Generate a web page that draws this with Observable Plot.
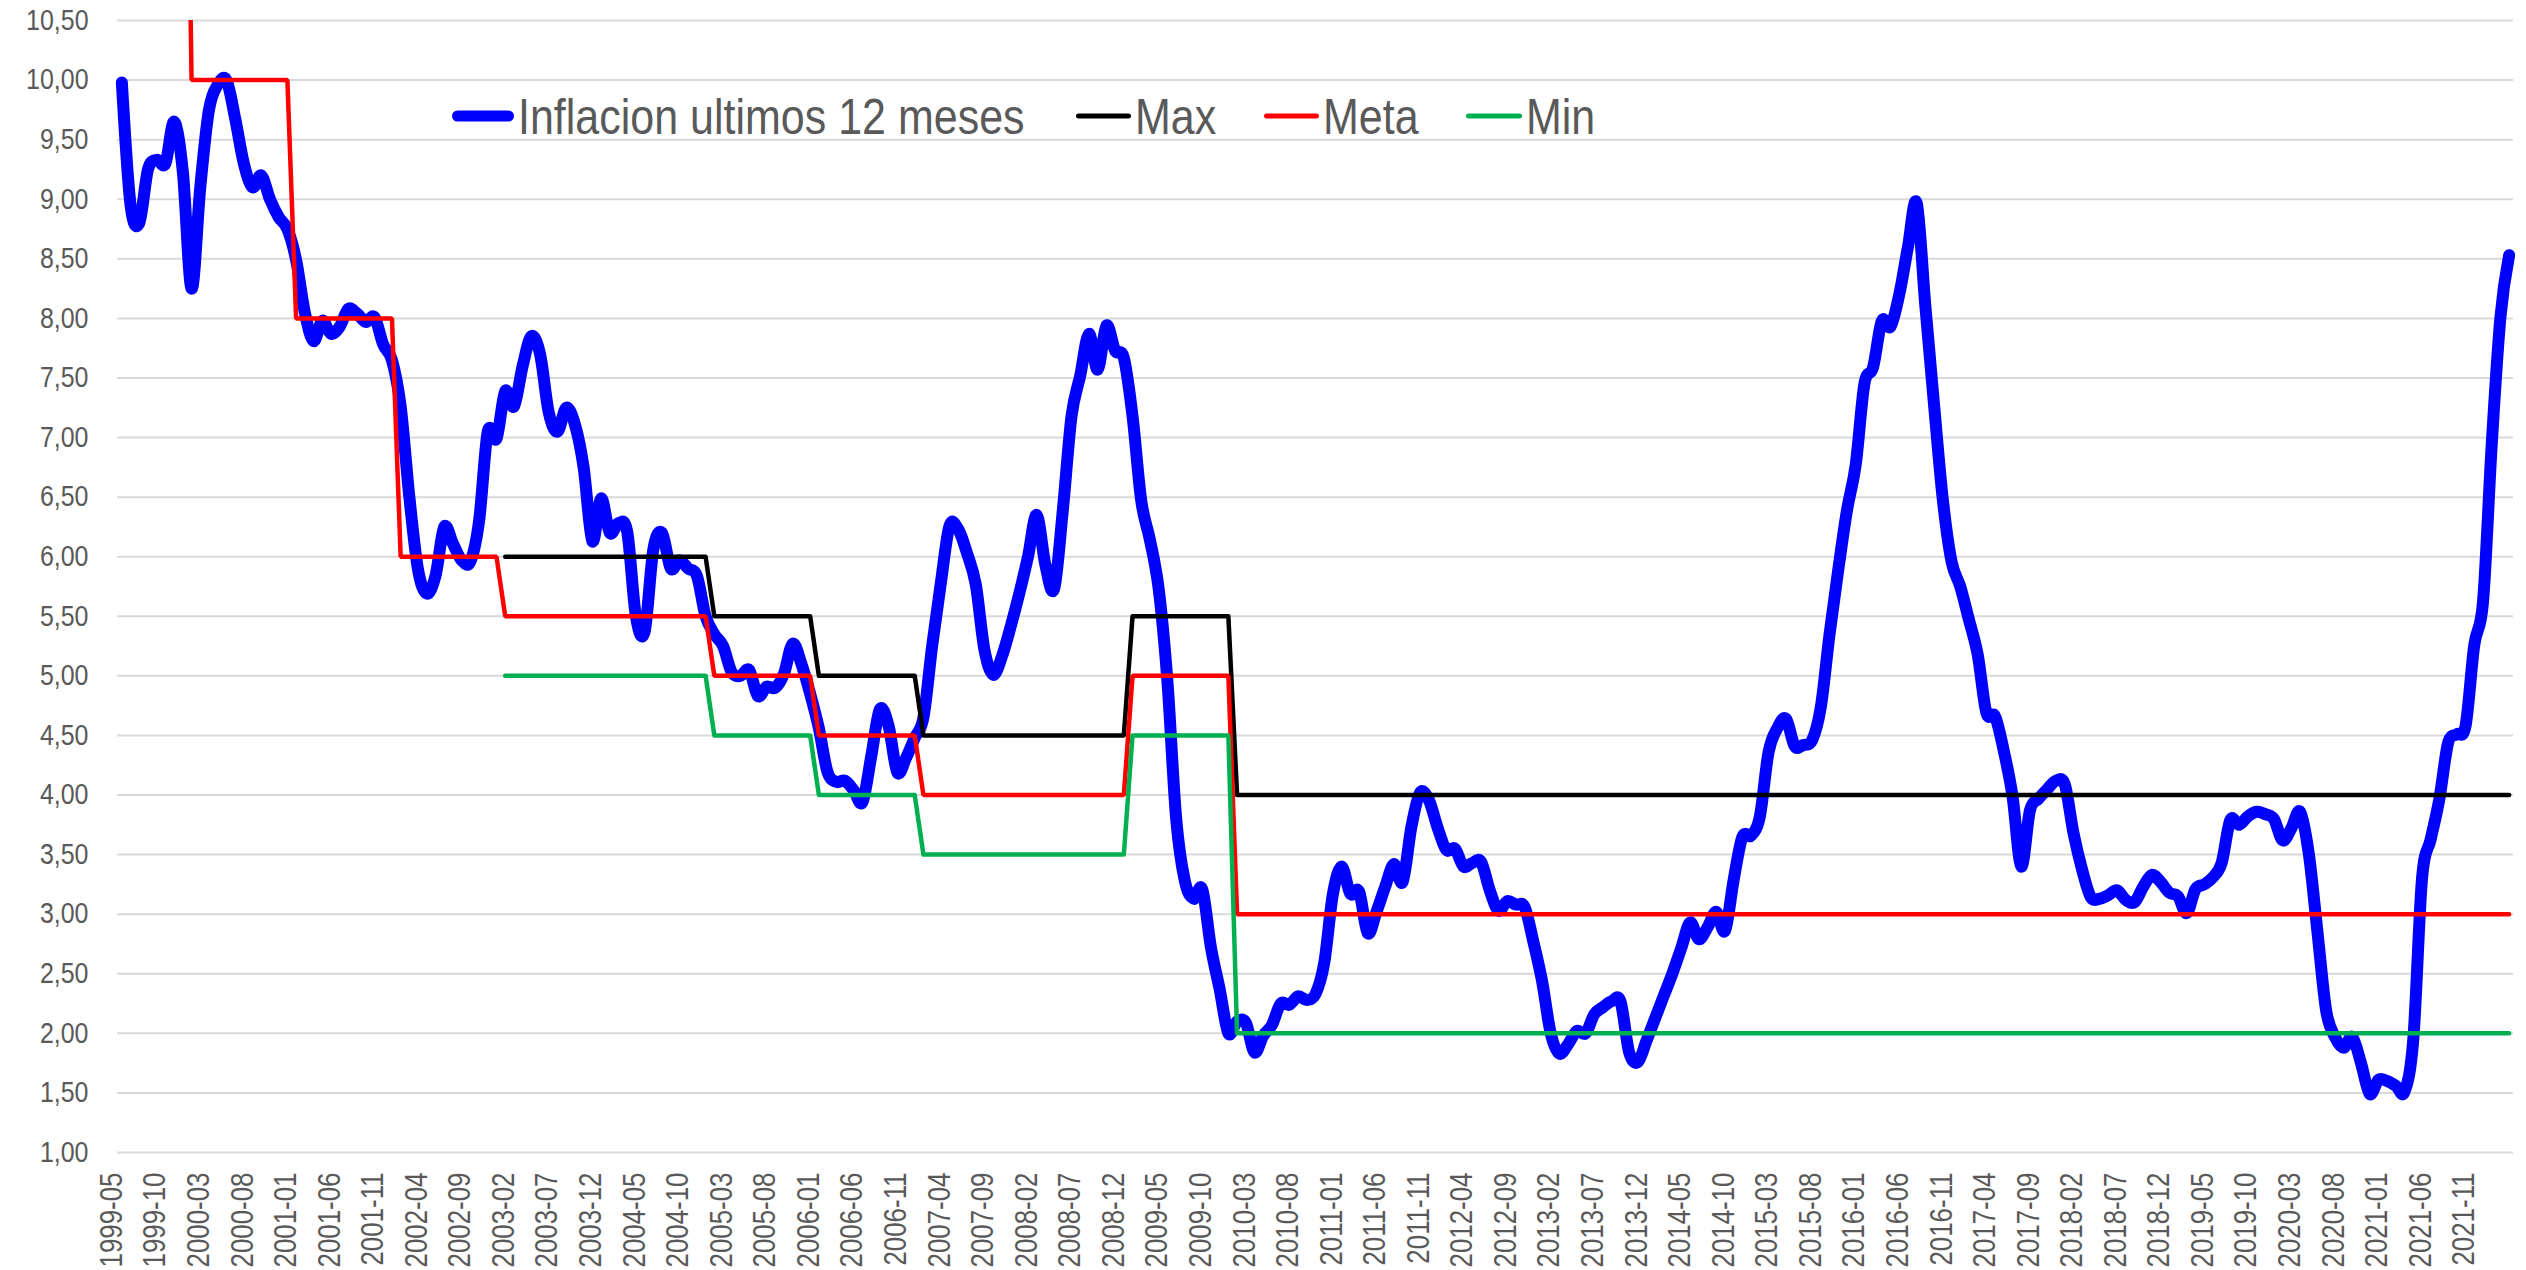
<!DOCTYPE html>
<html>
<head>
<meta charset="utf-8">
<script src="https://cdn.jsdelivr.net/npm/d3@7"></script>
<script src="https://cdn.jsdelivr.net/npm/@observablehq/plot@0.6"></script>
<style>
html, body { margin: 0; padding: 0; background: #ffffff; overflow: hidden; }
#wrap { position: relative; width: 2526px; height: 1270px; background: #ffffff; }
#wrap svg { display: block; }
</style>
</head>
<body>
<div id="wrap"></div>
<script>
// ---- Data ----
const startYear = 1999;
const startMonth = 5;

// Inflación últimos 12 meses (%), mensual 1999-05 ... 2022-03
const inflacion = [
  9.98, 8.95, 8.80, 9.25, 9.33, 9.30, 9.65, 9.23,                     // 1999-05..12
  8.25, 9.10, 9.75, 9.96, 10.00, 9.68, 9.30, 9.10, 9.20, 9.00, 8.85, 8.75, // 2000
  8.49, 8.05, 7.81, 7.98, 7.87, 7.93, 8.08, 8.04, 7.97, 8.01, 7.78, 7.65,  // 2001
  7.26, 6.50, 5.89, 5.69, 5.84, 6.25, 6.11, 5.97, 5.96, 6.30, 7.05, 6.99,  // 2002
  7.39, 7.26, 7.60, 7.85, 7.70, 7.21, 7.05, 7.25, 7.11, 6.75, 6.13, 6.49,  // 2003
  6.20, 6.28, 6.21, 5.50, 5.37, 6.06, 6.20, 5.90, 5.97, 5.90, 5.84, 5.50,  // 2004
  5.35, 5.25, 5.03, 5.00, 5.05, 4.83, 4.91, 4.90, 5.02, 5.27, 5.10, 4.85,  // 2005
  4.56, 4.19, 4.11, 4.12, 4.04, 3.94, 4.32, 4.72, 4.58, 4.19, 4.31, 4.48,  // 2006
  4.65, 5.25, 5.78, 6.26, 6.23, 6.03, 5.77, 5.22, 5.01, 5.16, 5.41, 5.69,  // 2007
  6.00, 6.35, 5.93, 5.73, 6.39, 7.18, 7.52, 7.87, 7.57, 7.94, 7.73, 7.67,  // 2008
  7.18, 6.47, 6.14, 5.73, 4.96, 3.81, 3.28, 3.13, 3.21, 2.72, 2.37, 2.00,  // 2009
  2.10, 2.09, 1.84, 1.98, 2.07, 2.25, 2.24, 2.31, 2.28, 2.33, 2.59, 3.17,  // 2010
  3.40, 3.17, 3.19, 2.84, 3.02, 3.23, 3.42, 3.27, 3.73, 4.02, 3.96, 3.73,  // 2011
  3.54, 3.55, 3.40, 3.43, 3.44, 3.20, 3.03, 3.11, 3.08, 3.06, 2.77, 2.44,  // 2012
  2.00, 1.83, 1.91, 2.02, 2.00, 2.16, 2.22, 2.27, 2.27, 1.84, 1.76, 1.94,  // 2013
  2.13, 2.32, 2.51, 2.72, 2.93, 2.79, 2.89, 3.02, 2.86, 3.29, 3.65, 3.66,  // 2014
  3.82, 4.36, 4.56, 4.64, 4.41, 4.42, 4.46, 4.74, 5.35, 5.89, 6.39, 6.77,  // 2015
  7.45, 7.59, 7.98, 7.93, 8.20, 8.60, 8.97, 8.10, 7.27, 6.48, 5.96, 5.75,  // 2016
  5.47, 5.18, 4.69, 4.66, 4.37, 3.99, 3.40, 3.87, 3.97, 4.05, 4.12, 4.09,  // 2017
  3.68, 3.37, 3.14, 3.13, 3.16, 3.20, 3.12, 3.10, 3.23, 3.33, 3.27, 3.18,  // 2018
  3.15, 3.01, 3.21, 3.25, 3.31, 3.43, 3.79, 3.75, 3.82, 3.86, 3.84, 3.80,  // 2019
  3.62, 3.72, 3.86, 3.51, 2.85, 2.19, 1.97, 1.88, 1.97, 1.75, 1.49, 1.61,  // 2020
  1.60, 1.56, 1.51, 1.95, 3.30, 3.63, 3.97, 4.44, 4.51, 4.58, 5.26, 5.62,  // 2021
  6.94, 8.01, 8.53                                                         // 2022-01..03
];

// Targets by year
const targetYears = [1999, 2000, 2001, 2002, 2003, 2004, 2005, 2006, 2007, 2008, 2009, 2010, 2011, 2012, 2013, 2014, 2015, 2016, 2017, 2018, 2019, 2020, 2021, 2022];
const meta =     [15, 10, 8, 6, 5.5, 5.5, 5.0, 4.5, 4.0, 4.0, 5.0, 3, 3, 3, 3, 3, 3, 3, 3, 3, 3, 3, 3, 3];
const maxRango = [null, null, null, null, 6, 6, 5.5, 5, 4.5, 4.5, 5.5, 4, 4, 4, 4, 4, 4, 4, 4, 4, 4, 4, 4, 4];
const minRango = [null, null, null, null, 5, 5, 4.5, 4, 3.5, 3.5, 4.5, 2, 2, 2, 2, 2, 2, 2, 2, 2, 2, 2, 2, 2];

const yTicks = [1, 1.5, 2, 2.5, 3, 3.5, 4, 4.5, 5, 5.5, 6, 6.5, 7, 7.5, 8, 8.5, 9, 9.5, 10, 10.5];
const xTickStep = 5;

const seriesNames = ["Inflacion ultimos 12 meses", "Max", "Meta", "Min"];
const seriesColors = ["#0000ff", "#000000", "#ff0000", "#00b050"];

// ---- Derived tables ----
const months = inflacion.map((_, i) => {
  const k = (startMonth - 1) + i;
  const yr = startYear + Math.floor(k / 12);
  const mo = (k % 12) + 1;
  return `${yr}-${String(mo).padStart(2, "0")}`;
});
const rows = inflacion.map((v, i) => {
  const yr = +months[i].slice(0, 4);
  const t = targetYears.indexOf(yr);
  return { i, month: months[i], v, meta: meta[t], max: maxRango[t], min: minRango[t] };
});
const tickIdx = d3.range(0, inflacion.length, xTickStep);
const fmt = d => d.toFixed(2).replace(".", ",");

const FONT = "'Liberation Sans', Arial, Helvetica, sans-serif";
const GRAY = "#595959";

const chart = Plot.plot({
  width: 2526,
  height: 1270,
  marginLeft: 117,
  marginRight: 13,
  marginTop: 20,
  marginBottom: 118,
  x: { domain: [-0.5, inflacion.length - 0.5], axis: null },
  y: { domain: [1, 10.5], axis: null },
  style: { fontFamily: FONT, background: "#ffffff", overflow: "visible" },
  marks: [
    Plot.gridY(yTicks, { stroke: "#d9d9d9", strokeOpacity: 1, strokeWidth: 2 }),
    Plot.text(yTicks, {
      y: d => d, text: fmt, frameAnchor: "left", textAnchor: "end",
      dx: -29, fontSize: 29, fill: GRAY
    }),
    Plot.text(tickIdx, {
      x: d => d, text: d => months[d], frameAnchor: "bottom", rotate: -90,
      textAnchor: "end", dy: 20, fontSize: 31, fill: GRAY
    }),
    Plot.line(rows, { x: "i", y: "v", stroke: seriesColors[0], strokeWidth: 12, curve: "cardinal",
      strokeLinecap: "round", strokeLinejoin: "round" }),
    Plot.line(rows, { x: "i", y: "max", stroke: seriesColors[1], strokeWidth: 4.5, strokeLinecap: "round" }),
    Plot.line(rows, { x: "i", y: "meta", stroke: seriesColors[2], strokeWidth: 4.5, clip: true,
      strokeLinejoin: "miter" }),
    Plot.line(rows, { x: "i", y: "min", stroke: seriesColors[3], strokeWidth: 4.5, strokeLinecap: "round" })
  ]
});

const wrap = document.getElementById("wrap");
wrap.appendChild(chart);

// Narrow the tick-label glyphs (the reference uses a condensed face)
function squeezeText(t, sx) {
  const full = t.getComputedTextLength();
  if (full > 0) {
    t.setAttribute("textLength", (full * sx).toFixed(2));
    t.setAttribute("lengthAdjust", "spacingAndGlyphs");
  }
}
chart.querySelectorAll("text").forEach(t => {
  const s = t.textContent.trim();
  if (/^\d+,\d\d$/.test(s)) squeezeText(t, 0.86);
  else if (/^\d{4}-\d{2}$/.test(s)) squeezeText(t, 0.835);
});

// ---- Legend (overlaid inside plot area, top) ----
const legendSwatch = [[452, 514, 11], [1076, 1131, 5], [1264, 1319, 5], [1466, 1522, 5]];
const legendTextX = [518, 1135, 1323, 1526];
const leg = d3.select(wrap).append("svg")
  .attr("width", 2526).attr("height", 1270)
  .style("position", "absolute").style("left", "0px").style("top", "0px")
  .style("pointer-events", "none");
seriesNames.forEach((name, k) => {
  const [a, b, w] = legendSwatch[k];
  leg.append("line")
    .attr("x1", a + w / 2).attr("x2", b - w / 2).attr("y1", 116).attr("y2", 116)
    .attr("stroke", seriesColors[k]).attr("stroke-width", w).attr("stroke-linecap", "round");
  leg.append("text")
    .attr("transform", `translate(${legendTextX[k]},134) scale(0.86,1)`)
    .attr("font-family", FONT).attr("font-size", 50).attr("fill", GRAY)
    .text(name);
});
</script>
</body>
</html>
